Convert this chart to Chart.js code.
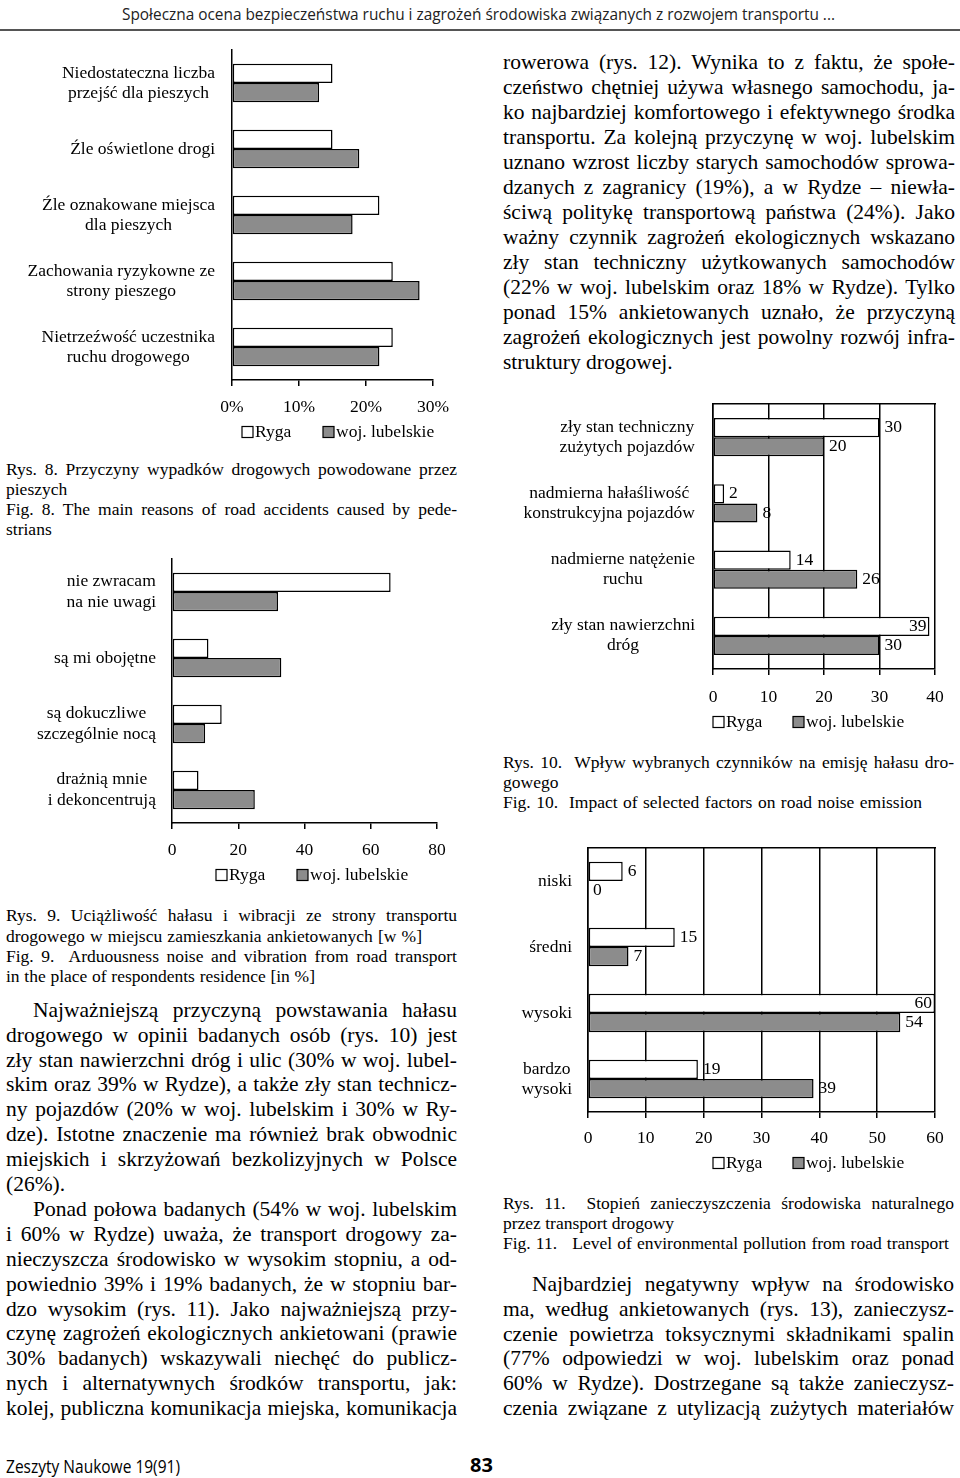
<!DOCTYPE html>
<html>
<head>
<meta charset="utf-8">
<script src="https://cdn.jsdelivr.net/npm/chart.js@4.4.0/dist/chart.umd.min.js"></script>
<style>
html, body { margin: 0; padding: 0; background: #fff; }
body { width: 960px; height: 1478px; position: relative; overflow: hidden;
       font-family: "Liberation Serif", "Times New Roman", serif; color: #000; }
canvas { position: absolute; }
.ln { position: absolute; white-space: pre; }
.sans { font-family: "Open Sans", "Noto Sans", sans-serif; }
#rule { position: absolute; left: 0; top: 29px; width: 960px; height: 2px; background: #555; }
</style>
</head>
<body>
<div id="head" class="ln sans" style="left:122px;top:3px;font-size:16px;line-height:22px;color:#222">Społeczna ocena bezpieczeństwa ruchu i zagrożeń środowiska związanych z rozwojem transportu ...</div>
<div id="rule"></div>

<canvas id="fig8" width="470" height="410" style="left:0;top:40px"></canvas>
<canvas id="fig9" width="470" height="340" style="left:0;top:550px"></canvas>
<canvas id="fig10" width="480" height="345" style="left:480px;top:395px"></canvas>
<canvas id="fig11" width="480" height="340" style="left:480px;top:840px"></canvas>

<div id="foot" class="ln sans" style="left:6px;top:1453px;font-size:18px;line-height:26px">Zeszyty Naukowe 19(91)</div>
<div class="ln sans" style="left:470px;top:1452px;font-size:20px;line-height:26px;font-weight:bold">83</div>

<script>
// Rys. 8 - przyczyny wypadków powodowane przez pieszych [%]
const fig8Labels = [
    ['Niedostateczna liczba', 'przejść dla pieszych'],
    ['Źle oświetlone drogi'],
    ['Źle oznakowane miejsca', 'dla pieszych'],
    ['Zachowania ryzykowne ze', 'strony pieszego'],
    ['Nietrzeźwość uczestnika', 'ruchu drogowego']
];
const fig8Ryga = [15, 15, 22, 24, 24];
const fig8Lubelskie = [13, 19, 18, 28, 22];

// Rys. 9 - uciążliwość hałasu i wibracji [w %]
const fig9Labels = [
    ['nie zwracam', 'na nie uwagi'],
    ['są mi obojętne'],
    ['są dokuczliwe', 'szczególnie nocą'],
    ['drażnią mnie', 'i dekoncentrują']
];
const fig9Ryga = [66, 11, 15, 8];
const fig9Lubelskie = [32, 33, 10, 25];

// Rys. 10 - czynniki emisji hałasu
const fig10Labels = [
    ['zły stan techniczny', 'zużytych pojazdów'],
    ['nadmierna hałaśliwość', 'konstrukcyjna pojazdów'],
    ['nadmierne natężenie', 'ruchu'],
    ['zły stan nawierzchni', 'dróg']
];
const fig10Ryga = [30, 2, 14, 39];
const fig10Lubelskie = [20, 8, 26, 30];

// Rys. 11 - stopień zanieczyszczenia środowiska
const fig11Labels = [['niski'], ['średni'], ['wysoki'], ['bardzo', 'wysoki']];
const fig11Ryga = [6, 15, 60, 19];
const fig11Lubelskie = [0, 7, 54, 39];

const serif = '"Liberation Serif", "Times New Roman", serif';
const fontSize = 17.5;

// category labels (block right-aligned, lines centred), bar values and the legend
const pagePlugin = {
    id: 'pagePlugin',
    afterDraw(chart, args, opts) {
        const { ctx, chartArea, scales } = chart;
        ctx.save();
        ctx.font = fontSize + 'px ' + serif;
        ctx.fillStyle = '#000';
        ctx.textBaseline = 'middle';

        ctx.textAlign = 'center';
        chart.data.labels.forEach((lab, i) => {
            const lines = [].concat(lab);
            const w = Math.max(...lines.map(l => ctx.measureText(l).width));
            const cx = chartArea.left - opts.gap - w / 2;
            const cy = scales.y.getPixelForValue(i);
            lines.forEach((l, j) => {
                ctx.fillText(l, cx, cy + (j - (lines.length - 1) / 2) * opts.lineH);
            });
        });

        if (opts.values) {
            chart.data.datasets.forEach((ds, d) => {
                chart.getDatasetMeta(d).data.forEach((bar, i) => {
                    const txt = String(ds.data[i]);
                    let x = bar.x + 5;
                    ctx.textAlign = 'left';
                    // no room past the frame -> put it inside the bar end
                    if (x + ctx.measureText(txt).width > chartArea.right) {
                        ctx.textAlign = 'right';
                        x = bar.x - 3;
                    }
                    ctx.fillText(txt, x, bar.y);
                });
            });
        }

        const ly = chartArea.bottom + opts.legendDy;
        ctx.textAlign = 'left';
        ctx.lineWidth = 1.2;
        ctx.strokeStyle = '#000';
        chart.data.datasets.forEach((ds, d) => {
            const x = chartArea.left + opts.legendAt[d];
            ctx.fillStyle = ds.backgroundColor;
            ctx.fillRect(x, ly - 5.5, 11, 11);
            ctx.strokeRect(x, ly - 5.5, 11, 11);
            ctx.fillStyle = '#000';
            ctx.fillText(ds.label, x + 13, ly);
        });
        ctx.restore();
    }
};

function drawBars(id, labels, ryga, lubelskie, o) {
    const tickFont = { family: serif, size: fontSize };
    const scales = {
        y: {
            ticks: { display: false },
            grid: { display: false },
            border: { display: true, color: '#000', width: 1.5 },
            afterFit: a => { a.width = o.labelW; }
        },
        x: {
            min: 0,
            max: o.max,
            ticks: { stepSize: o.step, color: '#000', font: tickFont, padding: o.tickPad,
                     callback: v => v + o.unit },
            grid: { color: '#000', lineWidth: 1.5, drawOnChartArea: o.framed,
                    drawTicks: true, tickLength: 6 },
            border: { color: '#000', width: 1.5 },
            afterFit: a => { a.height = o.axisH; }
        }
    };
    if (o.framed) {
        // top edge of the frame
        scales.x2 = {
            type: 'linear', position: 'top', min: 0, max: o.max,
            ticks: { display: false },
            grid: { display: false },
            border: { display: true, color: '#000', width: 1.5 },
            afterFit: a => { a.height = 0; }
        };
    }
    return new Chart(document.getElementById(id), {
        type: 'bar',
        data: {
            labels: labels,
            datasets: [
                { label: 'Ryga', data: ryga, backgroundColor: '#ffffff', borderColor: '#000',
                  borderWidth: 1.5, borderSkipped: false, categoryPercentage: 0.58, barPercentage: 1 },
                { label: 'woj. lubelskie', data: lubelskie, backgroundColor: '#8c8c8c', borderColor: '#000',
                  borderWidth: 1.5, borderSkipped: false, categoryPercentage: 0.58, barPercentage: 1 }
            ]
        },
        options: {
            indexAxis: 'y',
            responsive: false,
            animation: false,
            layout: { padding: { top: o.top, right: o.right, left: 0, bottom: 0 } },
            plugins: {
                legend: { display: false },
                tooltip: { enabled: false },
                pagePlugin: { gap: o.gap, lineH: o.lineH, values: o.values,
                              legendAt: o.legendAt, legendDy: o.legendDy }
            },
            scales: scales
        },
        plugins: [pagePlugin]
    });
}

drawBars('fig8', fig8Labels, fig8Ryga, fig8Lubelskie, {
    max: 30, step: 10, unit: '%', framed: false, values: false,
    labelW: 232, top: 10, right: 37, axisH: 70, tickPad: 10.5,
    gap: 17, lineH: 20, legendAt: [10, 91], legendDy: 52
});
drawBars('fig9', fig9Labels, fig9Ryga, fig9Lubelskie, {
    max: 80, step: 20, unit: '', framed: false, values: false,
    labelW: 172, top: 9, right: 33, axisH: 67, tickPad: 10.5,
    gap: 16, lineH: 21, legendAt: [44, 125], legendDy: 52
});
drawBars('fig10', fig10Labels, fig10Ryga, fig10Lubelskie, {
    max: 40, step: 10, unit: '', framed: true, values: true,
    labelW: 233, top: 9, right: 25, axisH: 71, tickPad: 11.5,
    gap: 18, lineH: 20, legendAt: [0, 80], legendDy: 53
});
drawBars('fig11', fig11Labels, fig11Ryga, fig11Lubelskie, {
    max: 60, step: 10, unit: '', framed: true, values: true,
    labelW: 108, top: 8, right: 25, axisH: 68, tickPad: 9.5,
    gap: 16, lineH: 20, legendAt: [125, 205], legendDy: 51
});

// ---- page text ----
// each line: [text, right end to justify to (0 = natural), indent]
function textBlock(x0, yc, step, size, lh, lines) {
    const k = (lh - 1.107 * size) / 2 + 0.891 * size - 0.35 * size;
    lines.forEach(([text, end, indent], i) => {
        const d = document.createElement('div');
        d.className = 'ln';
        d.textContent = text;
        const left = x0 + (indent || 0);
        d.style.left = left + 'px';
        d.style.top = (yc + i * step - k) + 'px';
        d.style.fontSize = size + 'px';
        d.style.lineHeight = lh + 'px';
        document.body.appendChild(d);
        if (end) {
            const spaces = (text.match(/ /g) || []).length;
            const w = d.getBoundingClientRect().width;
            if (spaces) d.style.wordSpacing = ((end - left - w) / spaces) + 'px';
        }
    });
}

const body = 21.5, cap = 17.5;

textBlock(503, 62, 25, body, 25, [
    ['rowerowa (rys. 12). Wynika to z faktu, że społe-', 955],
    ['czeństwo chętniej używa własnego samochodu, ja-', 955],
    ['ko najbardziej komfortowego i efektywnego środka', 955],
    ['transportu. Za kolejną przyczynę w woj. lubelskim', 955],
    ['uznano wzrost liczby starych samochodów sprowa-', 955],
    ['dzanych z zagranicy (19%), a w Rydze – niewła-', 955],
    ['ściwą politykę transportową państwa (24%). Jako', 955],
    ['ważny czynnik zagrożeń ekologicznych wskazano', 955],
    ['zły stan techniczny użytkowanych samochodów', 955],
    ['(22% w woj. lubelskim oraz 18% w Rydze). Tylko', 955],
    ['ponad 15% ankietowanych uznało, że przyczyną', 955],
    ['zagrożeń ekologicznych jest powolny rozwój infra-', 955],
    ['struktury drogowej.', 0]
]);

textBlock(6, 469, 20, cap, 20, [
    ['Rys. 8. Przyczyny wypadków drogowych powodowane przez', 457],
    ['pieszych', 0],
    ['Fig. 8. The main reasons of road accidents caused by pede-', 457],
    ['strians', 0]
]);

textBlock(6, 915, 20.3, cap, 20, [
    ['Rys. 9. Uciążliwość hałasu i wibracji ze strony transportu', 457],
    ['drogowego w miejscu zamieszkania ankietowanych [w %]', 422],
    ['Fig. 9.  Arduousness noise and vibration from road transport', 457],
    ['in the place of respondents residence [in %]', 315]
]);

textBlock(6, 1010, 24.9, body, 25, [
    ['Najważniejszą przyczyną powstawania hałasu', 457, 27],
    ['drogowego w opinii badanych osób (rys. 10) jest', 457],
    ['zły stan nawierzchni dróg i ulic (30% w woj. lubel-', 457],
    ['skim oraz 39% w Rydze), a także zły stan technicz-', 457],
    ['ny pojazdów (20% w woj. lubelskim i 30% w Ry-', 457],
    ['dze). Istotne znaczenie ma również brak obwodnic', 457],
    ['miejskich i skrzyżowań bezkolizyjnych w Polsce', 457],
    ['(26%).', 0],
    ['Ponad połowa badanych (54% w woj. lubelskim', 457, 27],
    ['i 60% w Rydze) uważa, że transport drogowy za-', 457],
    ['nieczyszcza środowisko w wysokim stopniu, a od-', 457],
    ['powiednio 39% i 19% badanych, że w stopniu bar-', 457],
    ['dzo wysokim (rys. 11). Jako najważniejszą przy-', 457],
    ['czynę zagrożeń ekologicznych ankietowani (prawie', 457],
    ['30% badanych) wskazywali niechęć do publicz-', 457],
    ['nych i alternatywnych środków transportu, jak:', 457],
    ['kolej, publiczna komunikacja miejska, komunikacja', 457]
]);

textBlock(503, 762, 19.8, cap, 20, [
    ['Rys. 10.  Wpływ wybranych czynników na emisję hałasu dro-', 954],
    ['gowego', 0],
    ['Fig. 10.  Impact of selected factors on road noise emission', 922]
]);

textBlock(503, 1203, 20, cap, 20, [
    ['Rys. 11.  Stopień zanieczyszczenia środowiska naturalnego', 954],
    ['przez transport drogowy', 0],
    ['Fig. 11.   Level of environmental pollution from road transport', 949]
]);

textBlock(503, 1284, 24.9, body, 25, [
    ['Najbardziej negatywny wpływ na środowisko', 954, 29],
    ['ma, według ankietowanych (rys. 13), zanieczysz-', 954],
    ['czenie powietrza toksycznymi składnikami spalin', 954],
    ['(77% odpowiedzi w woj. lubelskim oraz ponad', 954],
    ['60% w Rydze). Dostrzegane są także zanieczysz-', 954],
    ['czenia związane z utylizacją zużytych materiałów', 954]
]);

// squeeze the sans running head / foot to the widths on the page
function fitWidth(id, target) {
    const el = document.getElementById(id);
    const w = el.getBoundingClientRect().width;
    el.style.transformOrigin = '0 50%';
    el.style.transform = 'scaleX(' + (target / w) + ')';
}
fitWidth('head', 713);
fitWidth('foot', 174);
</script>
</body>
</html>
